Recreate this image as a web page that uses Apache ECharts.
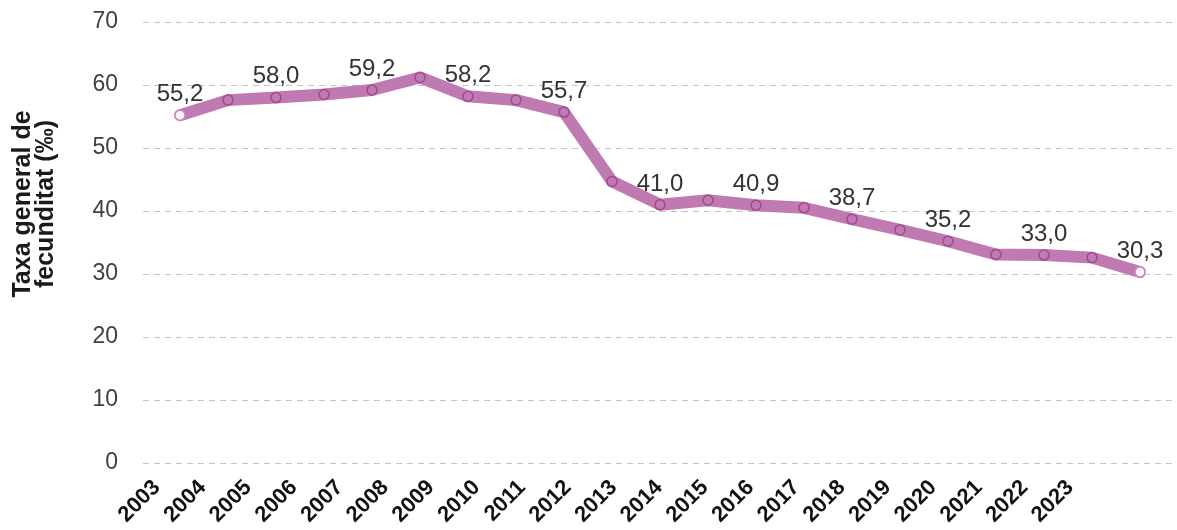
<!DOCTYPE html>
<html>
<head>
<meta charset="utf-8">
<script src="https://cdn.jsdelivr.net/npm/echarts@6/dist/echarts.min.js"></script>
<style>
  html, body { margin: 0; padding: 0; background: #fff; }
  #chart { width: 1177px; height: 530px; }
</style>
</head>
<body>
<div id="chart"></div>
<script>
// data
const years = ['2003', '2004', '2005', '2006', '2007', '2008', '2009', '2010', '2011', '2012',
  '2013', '2014', '2015', '2016', '2017', '2018', '2019', '2020', '2021', '2022', '2023'];
const rates = [55.2, 57.6, 58.0, 58.5, 59.2, 61.2, 58.2, 57.6, 55.7, 44.7,
  41.0, 41.7, 40.9, 40.5, 38.7, 37.0, 35.2, 33.1, 33.0, 32.6, 30.3];
const yMin = 0;
const yMax = 70;
const yStep = 10;

const lineColor = '#c07ab2';
const markColor = '#a4478f';
const numFont = '"Liberation Sans", Arial, sans-serif';

const chart = echarts.init(document.getElementById('chart'));

// end points are drawn lighter, like the reference
const seriesData = rates.map((v, i) => {
  const isEnd = i === 0 || i === rates.length - 1;
  return isEnd
    ? { value: v, itemStyle: { color: '#fbf1f8', borderColor: '#c98cbc' } }
    : v;
});

const option = {
  animation: false,
  grid: [
    { left: 156, right: 13, top: 22, bottom: 67 },  // data
    { left: 143, right: 0, top: 22, bottom: 67 },   // gridlines
    { left: 134, right: 84, top: 22, bottom: 67 }   // year labels
  ],
  graphic: [{
    type: 'text',
    x: 35,
    y: 204,
    rotation: Math.PI / 2,
    style: {
      text: 'Taxa general de\nfecunditat (‰)',
      font: 'bold 25px "Liberation Sans", Arial, sans-serif',
      fill: '#1a1a1a',
      align: 'center',
      verticalAlign: 'middle',
      lineHeight: 23
    }
  }],
  xAxis: [
    {
      type: 'category', gridIndex: 0, data: years,
      axisLine: { show: false }, axisTick: { show: false }, axisLabel: { show: false }
    },
    { type: 'category', gridIndex: 1, data: years, show: false },
    {
      type: 'category', gridIndex: 2, data: years,
      axisLine: { show: false }, axisTick: { show: false },
      axisLabel: {
        interval: 0,
        rotate: 45,
        margin: 21,
        color: '#111',
        fontSize: 22,
        fontWeight: 'bold',
        fontFamily: '"Liberation Sans", Arial, sans-serif'
      }
    }
  ],
  yAxis: [
    {
      type: 'value', gridIndex: 0, min: yMin, max: yMax, interval: yStep,
      axisLine: { show: false }, axisTick: { show: false }, splitLine: { show: false },
      axisLabel: { margin: 38, color: '#404040', fontSize: 23, fontFamily: numFont }
    },
    {
      type: 'value', gridIndex: 1, min: yMin, max: yMax, interval: yStep,
      axisLine: { show: false }, axisTick: { show: false }, axisLabel: { show: false },
      splitLine: { lineStyle: { color: '#c4c4c4', width: 1, type: [6, 5] } }
    },
    { type: 'value', gridIndex: 2, min: yMin, max: yMax, show: false }
  ],
  series: [{
    type: 'line',
    xAxisIndex: 0,
    yAxisIndex: 0,
    data: seriesData,
    symbol: 'circle',
    symbolSize: 10,
    lineStyle: { color: lineColor, width: 12, join: 'round', cap: 'round' },
    itemStyle: { color: lineColor, borderColor: markColor, borderWidth: 1.5 },
    label: {
      show: true,
      position: 'top',
      distance: 3,
      color: '#333',
      fontSize: 24,
      fontFamily: numFont,
      formatter: p => (p.dataIndex % 2 === 0 ? p.value.toFixed(1).replace('.', ',') : '')
    },
    z: 3
  }]
};

chart.setOption(option);
</script>
</body>
</html>
